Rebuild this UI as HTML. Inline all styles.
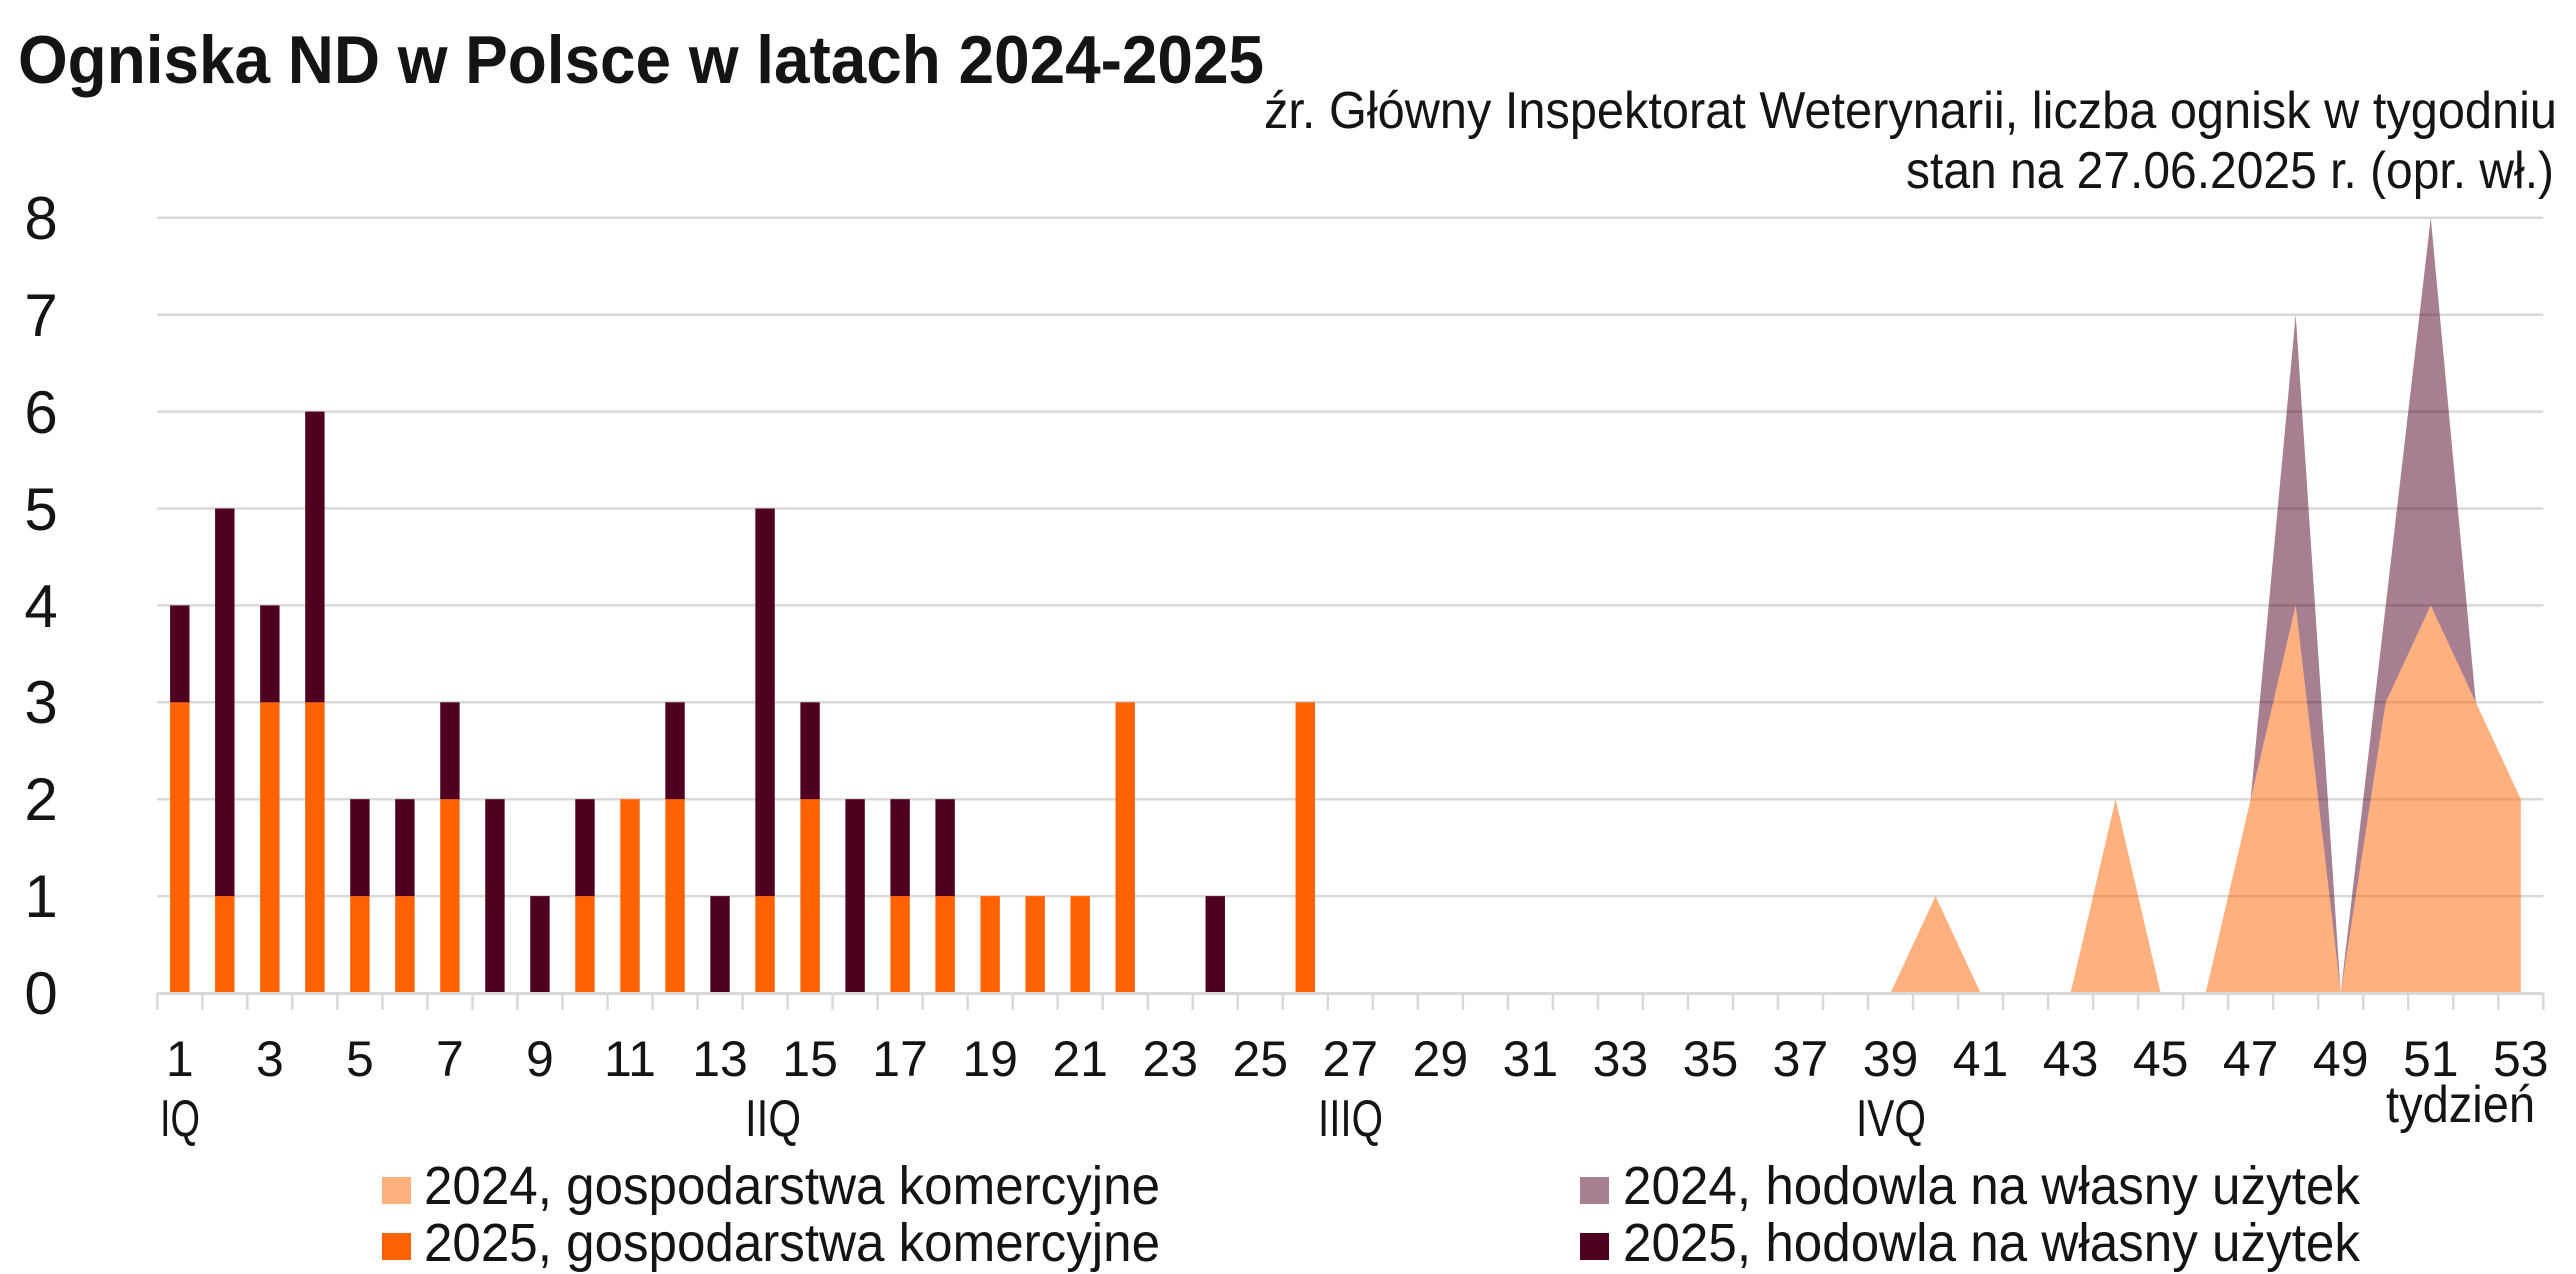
<!DOCTYPE html>
<html>
<head>
<meta charset="utf-8">
<style>
html,body{margin:0;padding:0;background:#ffffff;}
svg{display:block;}
text{font-family:"Liberation Sans","DejaVu Sans",sans-serif;fill:#141414;}
</style>
</head>
<body>
<svg width="2576" height="1274" viewBox="0 0 2576 1274" xmlns="http://www.w3.org/2000/svg">
<rect x="0" y="0" width="2576" height="1274" fill="#ffffff"/>

<!-- Title -->
<text x="18" y="83" font-size="68" font-weight="bold" textLength="1246" lengthAdjust="spacingAndGlyphs">Ogniska ND w Polsce w latach 2024-2025</text>

<!-- Source -->
<text x="1264" y="128" font-size="52" textLength="1293" lengthAdjust="spacingAndGlyphs">źr. Główny Inspektorat Weterynarii, liczba ognisk w tygodniu</text>
<text x="1906" y="188" font-size="52" textLength="648" lengthAdjust="spacingAndGlyphs">stan na 27.06.2025 r. (opr. wł.)</text>

<!-- Gridlines -->
<g stroke="#D9D9D9" stroke-width="2.5">
<line x1="157.3" y1="896.1" x2="2543.3" y2="896.1"/>
<line x1="157.3" y1="799.2" x2="2543.3" y2="799.2"/>
<line x1="157.3" y1="702.3" x2="2543.3" y2="702.3"/>
<line x1="157.3" y1="605.4" x2="2543.3" y2="605.4"/>
<line x1="157.3" y1="508.5" x2="2543.3" y2="508.5"/>
<line x1="157.3" y1="411.6" x2="2543.3" y2="411.6"/>
<line x1="157.3" y1="314.7" x2="2543.3" y2="314.7"/>
<line x1="157.3" y1="217.8" x2="2543.3" y2="217.8"/>
</g>

<!-- Y labels -->
<g font-size="60" text-anchor="middle">
<text x="41" y="1014">0</text>
<text x="41" y="917">1</text>
<text x="41" y="820">2</text>
<text x="41" y="723">3</text>
<text x="41" y="627">4</text>
<text x="41" y="530">5</text>
<text x="41" y="433">6</text>
<text x="41" y="336">7</text>
<text x="41" y="239">8</text>
</g>

<!-- 2024 areas -->
<polygon fill="#FF6200" fill-opacity="0.5" points="1890.53,993 1935.55,896.1 1980.57,993 2025.59,993 2070.61,993 2115.63,799.2 2160.65,993 2205.67,993 2250.68,799.2 2295.70,605.4 2340.72,993 2385.74,702.3 2430.76,605.4 2475.78,702.3 2520.80,799.2 2520.80,993"/>
<polygon fill="#4F0021" fill-opacity="0.5" points="2250.68,799.2 2295.70,314.7 2340.72,993 2295.70,605.4"/>
<polygon fill="#4F0021" fill-opacity="0.5" points="2340.72,993 2385.74,605.4 2430.76,217.8 2475.78,702.3 2430.76,605.4 2385.74,702.3"/>

<!-- 2025 bars: commercial (orange) -->
<g fill="#FF6200">
<rect x="170.1" y="702.3" width="19.4" height="290.7"/>
<rect x="215.1" y="896.1" width="19.4" height="96.9"/>
<rect x="260.15" y="702.3" width="19.4" height="290.7"/>
<rect x="305.17" y="702.3" width="19.4" height="290.7"/>
<rect x="350.19" y="896.1" width="19.4" height="96.9"/>
<rect x="395.21" y="896.1" width="19.4" height="96.9"/>
<rect x="440.22" y="799.2" width="19.4" height="193.8"/>
<rect x="575.28" y="896.1" width="19.4" height="96.9"/>
<rect x="620.30" y="799.2" width="19.4" height="193.8"/>
<rect x="665.32" y="799.2" width="19.4" height="193.8"/>
<rect x="755.36" y="896.1" width="19.4" height="96.9"/>
<rect x="800.38" y="799.2" width="19.4" height="193.8"/>
<rect x="890.41" y="896.1" width="19.4" height="96.9"/>
<rect x="935.43" y="896.1" width="19.4" height="96.9"/>
<rect x="980.45" y="896.1" width="19.4" height="96.9"/>
<rect x="1025.47" y="896.1" width="19.4" height="96.9"/>
<rect x="1070.49" y="896.1" width="19.4" height="96.9"/>
<rect x="1115.51" y="702.3" width="19.4" height="290.7"/>
<rect x="1295.59" y="702.3" width="19.4" height="290.7"/>
</g>
<!-- 2025 bars: own use (dark) -->
<g fill="#4F0021">
<rect x="170.1" y="605.4" width="19.4" height="96.9"/>
<rect x="215.1" y="508.5" width="19.4" height="387.6"/>
<rect x="260.15" y="605.4" width="19.4" height="96.9"/>
<rect x="305.17" y="411.6" width="19.4" height="290.7"/>
<rect x="350.19" y="799.2" width="19.4" height="96.9"/>
<rect x="395.21" y="799.2" width="19.4" height="96.9"/>
<rect x="440.22" y="702.3" width="19.4" height="96.9"/>
<rect x="485.24" y="799.2" width="19.4" height="193.8"/>
<rect x="530.26" y="896.1" width="19.4" height="96.9"/>
<rect x="575.28" y="799.2" width="19.4" height="96.9"/>
<rect x="665.32" y="702.3" width="19.4" height="96.9"/>
<rect x="710.34" y="896.1" width="19.4" height="96.9"/>
<rect x="755.36" y="508.5" width="19.4" height="387.6"/>
<rect x="800.38" y="702.3" width="19.4" height="96.9"/>
<rect x="845.40" y="799.2" width="19.4" height="193.8"/>
<rect x="890.41" y="799.2" width="19.4" height="96.9"/>
<rect x="935.43" y="799.2" width="19.4" height="96.9"/>
<rect x="1205.55" y="896.1" width="19.4" height="96.9"/>
</g>

<!-- X axis -->
<line x1="157.3" y1="993.5" x2="2543.3" y2="993.5" stroke="#D9D9D9" stroke-width="3"/>
<path stroke="#D9D9D9" stroke-width="2.5" fill="none" d="M157.3 993V1010M202.32 993V1010M247.34 993V1010M292.36 993V1010M337.38 993V1010M382.40 993V1010M427.41 993V1010M472.43 993V1010M517.45 993V1010M562.47 993V1010M607.49 993V1010M652.51 993V1010M697.53 993V1010M742.55 993V1010M787.57 993V1010M832.59 993V1010M877.60 993V1010M922.62 993V1010M967.64 993V1010M1012.66 993V1010M1057.68 993V1010M1102.70 993V1010M1147.72 993V1010M1192.74 993V1010M1237.76 993V1010M1282.78 993V1010M1327.79 993V1010M1372.81 993V1010M1417.83 993V1010M1462.85 993V1010M1507.87 993V1010M1552.89 993V1010M1597.91 993V1010M1642.93 993V1010M1687.95 993V1010M1732.97 993V1010M1777.98 993V1010M1823.00 993V1010M1868.02 993V1010M1913.04 993V1010M1958.06 993V1010M2003.08 993V1010M2048.10 993V1010M2093.12 993V1010M2138.14 993V1010M2183.16 993V1010M2228.17 993V1010M2273.19 993V1010M2318.21 993V1010M2363.23 993V1010M2408.25 993V1010M2453.27 993V1010M2498.29 993V1010M2543.31 993V1010"/>

<!-- X labels -->
<g font-size="50" text-anchor="middle">
<text x="179.81" y="1076">1</text>
<text x="269.85" y="1076">3</text>
<text x="359.89" y="1076">5</text>
<text x="449.92" y="1076">7</text>
<text x="539.96" y="1076">9</text>
<text x="630.00" y="1076">11</text>
<text x="720.04" y="1076">13</text>
<text x="810.08" y="1076">15</text>
<text x="900.11" y="1076">17</text>
<text x="990.15" y="1076">19</text>
<text x="1080.19" y="1076">21</text>
<text x="1170.23" y="1076">23</text>
<text x="1260.27" y="1076">25</text>
<text x="1350.30" y="1076">27</text>
<text x="1440.34" y="1076">29</text>
<text x="1530.38" y="1076">31</text>
<text x="1620.42" y="1076">33</text>
<text x="1710.46" y="1076">35</text>
<text x="1800.49" y="1076">37</text>
<text x="1890.53" y="1076">39</text>
<text x="1980.57" y="1076">41</text>
<text x="2070.61" y="1076">43</text>
<text x="2160.65" y="1076">45</text>
<text x="2250.68" y="1076">47</text>
<text x="2340.72" y="1076">49</text>
<text x="2430.76" y="1076">51</text>
<text x="2520.80" y="1076">53</text>
</g>

<!-- Quarter labels -->
<g font-size="52">
<text x="160" y="1136" textLength="40" lengthAdjust="spacingAndGlyphs">IQ</text>
<text x="745" y="1136" textLength="56" lengthAdjust="spacingAndGlyphs">IIQ</text>
<text x="1318" y="1136" textLength="65" lengthAdjust="spacingAndGlyphs">IIIQ</text>
<text x="1856" y="1136" textLength="70" lengthAdjust="spacingAndGlyphs">IVQ</text>
<text x="2386" y="1122" textLength="149" lengthAdjust="spacingAndGlyphs">tydzień</text>
</g>

<!-- Legend -->
<rect x="382" y="1177" width="29" height="27" fill="#FF6200" fill-opacity="0.5"/>
<rect x="382" y="1233" width="29" height="27" fill="#FF6200"/>
<rect x="1580" y="1177" width="29" height="27" fill="#4F0021" fill-opacity="0.5"/>
<rect x="1580" y="1233" width="29" height="27" fill="#4F0021"/>
<g font-size="54">
<text x="424" y="1204" textLength="736" lengthAdjust="spacingAndGlyphs">2024, gospodarstwa komercyjne</text>
<text x="424" y="1261" textLength="736" lengthAdjust="spacingAndGlyphs">2025, gospodarstwa komercyjne</text>
<text x="1623" y="1204" textLength="737" lengthAdjust="spacingAndGlyphs">2024, hodowla na własny użytek</text>
<text x="1623" y="1261" textLength="737" lengthAdjust="spacingAndGlyphs">2025, hodowla na własny użytek</text>
</g>
</svg>
</body>
</html>
